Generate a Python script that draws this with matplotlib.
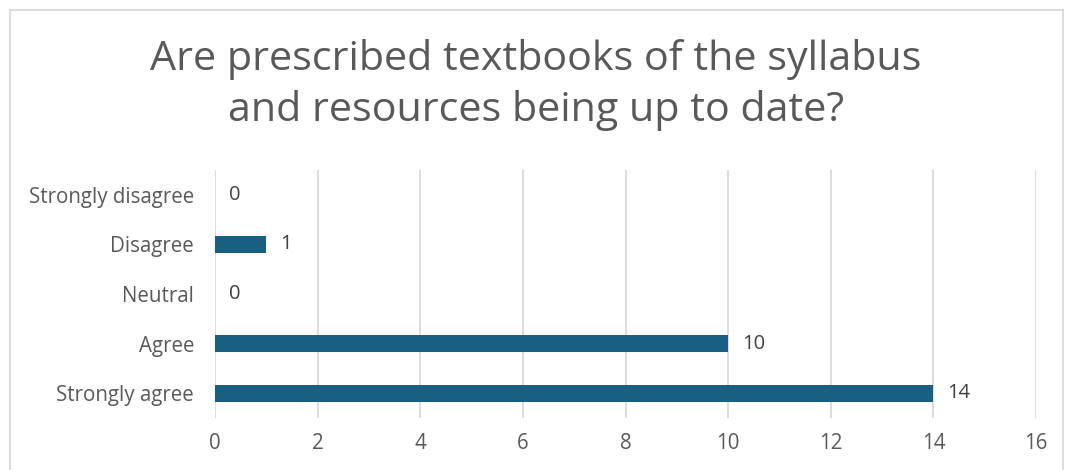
import matplotlib
matplotlib.use('Agg')
import matplotlib.pyplot as plt
import matplotlib.patches as patches

categories = ['Strongly disagree', 'Disagree', 'Neutral', 'Agree', 'Strongly agree']
responses = [0, 1, 0, 10, 14]
x_ticks = [0, 2, 4, 6, 8, 10, 12, 14, 16]

plt.rcParams['font.family'] = ['Open Sans', 'DejaVu Sans']

bar_color = '#195f81'
grid_color = '#d9d9d9'
text_gray = '#595959'

fig = plt.figure(figsize=(10.65, 4.7), dpi=100)
ax = fig.add_axes([0.2019, 0.1106, 0.7709, 0.5277])

# categories top to bottom
y_pos = list(range(len(categories)))[::-1]
ax.barh(y_pos, responses, height=0.35, color=bar_color, zorder=3)

for y, v in zip(y_pos, responses):
    ax.annotate(str(v), (v, y), textcoords='offset points', xytext=(10, 0),
                va='center', ha='left', fontsize=14.5, color='#404040')

ax.set_xlim(0, 16)
ax.set_ylim(-0.5, 4.5)
ax.set_xticks(x_ticks)
ax.set_yticks(y_pos)
ax.set_yticklabels(categories)
ax.tick_params(axis='both', length=0, labelsize=14.8, labelcolor=text_gray)
ax.tick_params(axis='x', pad=11)
ax.tick_params(axis='y', pad=15)
ax.grid(axis='x', color=grid_color, linewidth=1.3, zorder=0)
for s in ax.spines.values():
    s.set_visible(False)

fig.text(0.503, 0.82, 'Are prescribed textbooks of the syllabus\nand resources being up to date?',
         ha='center', va='center', fontsize=29.7, color=text_gray, linespacing=1.32)

# chart border
border = patches.Rectangle((10 / 1065, -0.1), 1053 / 1065, 1.1 - 10 / 470,
                           transform=fig.transFigure, fill=False,
                           edgecolor=grid_color, linewidth=1.3)
fig.patches.append(border)

fig.savefig('out.png', dpi=100)
